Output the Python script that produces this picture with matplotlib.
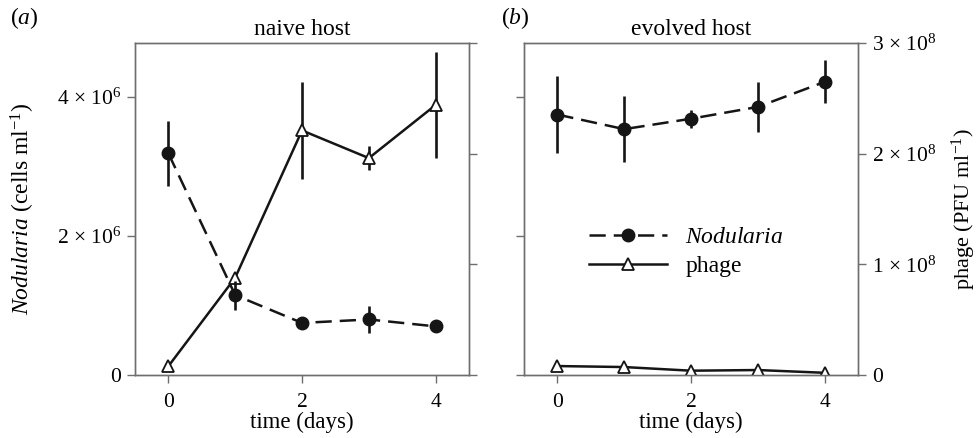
import numpy as np
import matplotlib
matplotlib.use("Agg")
import matplotlib.pyplot as plt
from matplotlib.ticker import FuncFormatter
from matplotlib.lines import Line2D

plt.rcParams["font.family"] = ["Liberation Serif", "DejaVu Serif"]
plt.rcParams["mathtext.fontset"] = "custom"
plt.rcParams["mathtext.rm"] = "Liberation Serif"
plt.rcParams["mathtext.it"] = "Liberation Serif:italic"
plt.rcParams["font.size"] = 16

days = [0, 1, 2, 3, 4]

# naive host
naive_cells = [3.19e6, 1.15e6, 0.75e6, 0.80e6, 0.70e6]
naive_cells_err = [0.47e6, 0.21e6, 0.05e6, 0.19e6, 0.03e6]
naive_phage = [0.08e8, 0.88e8, 2.21e8, 1.96e8, 2.44e8]
naive_phage_err = [0.01e8, 0.02e8, 0.44e8, 0.11e8, 0.48e8]

# evolved host
evolved_cells = [3.75e6, 3.54e6, 3.69e6, 3.86e6, 4.22e6]
evolved_cells_err = [0.55e6, 0.48e6, 0.13e6, 0.36e6, 0.31e6]
evolved_phage = [0.081e8, 0.072e8, 0.039e8, 0.045e8, 0.02e8]
evolved_phage_err = [0.0, 0.0, 0.0, 0.0, 0.0]

cell_ticks = [0, 2e6, 4e6]
phage_ticks = [0, 1e8, 2e8, 3e8]
cell_max = 4.78e6
phage_max = 3e8

spine_col = "#6e6e6e"
line_col = "#151515"
dash = (0, (6.5, 3.2))


def sci_fmt(v, pos):
    if v == 0:
        return "0"
    exp = int(np.floor(np.log10(v)))
    mant = v / 10 ** exp
    return "%d \u00d7 10$^{%d}$" % (round(mant), exp)


def style_axes(ax):
    for s in ax.spines.values():
        s.set_color(spine_col)
        s.set_linewidth(1.0)
    ax.tick_params(direction="out", length=6, width=1.0, color=spine_col,
                   labelcolor="black", labelsize=15.5, pad=4)
    ax.tick_params(axis="x", pad=7)


fig = plt.figure(figsize=(9.77, 4.38), dpi=100)
ax_a = fig.add_axes([0.1382, 0.1438, 0.3419, 0.758])
ax_b = fig.add_axes([0.5363, 0.1438, 0.3419, 0.758])

panels = [
    (ax_a, naive_cells, naive_cells_err, naive_phage, naive_phage_err, "naive host", "a"),
    (ax_b, evolved_cells, evolved_cells_err, evolved_phage, evolved_phage_err, "evolved host", "b"),
]

for i, (ax, cells, cerr, phage, perr, title, lab) in enumerate(panels):
    ax2 = ax.twinx()
    ax.set_zorder(ax2.get_zorder() + 1)
    ax.patch.set_visible(False)

    # phage on the right-hand scale
    ax2.errorbar(days, phage, yerr=perr, color=line_col, lw=1.8, elinewidth=1.9,
                 capsize=0, marker="^", markersize=9, markerfacecolor="white",
                 markeredgecolor=line_col, markeredgewidth=1.3, zorder=3)
    # Nodularia on the left-hand scale
    ax.errorbar(days, cells, yerr=cerr, color=line_col, lw=1.8, elinewidth=1.9,
                capsize=0, marker="o", markersize=9, linestyle=dash, zorder=4)

    ax.set_xlim(-0.5, 4.5)
    ax.set_ylim(0, cell_max)
    ax2.set_ylim(0, phage_max)
    ax.set_xticks([0, 2, 4])
    ax.set_yticks(cell_ticks)
    ax2.set_yticks(phage_ticks)
    ax.yaxis.set_major_formatter(FuncFormatter(sci_fmt))
    ax2.yaxis.set_major_formatter(FuncFormatter(sci_fmt))
    style_axes(ax)
    style_axes(ax2)
    ax.set_xlabel("time (days)", fontsize=16.5, labelpad=0)
    ax.set_title(title, fontsize=17, pad=6)
    ax.text(-0.375 if i == 0 else -0.07, 1.035, r"($\mathit{%s}$)" % lab,
            transform=ax.transAxes, fontsize=17, ha="left", va="bottom")

    if i == 0:
        ax2.tick_params(labelright=False)
        ax.set_ylabel(r"$\mathit{Nodularia}$ (cells ml$^{-1}$)", fontsize=17)
        ax.yaxis.set_label_coords(-0.293, 0.5)
    else:
        ax.tick_params(labelleft=False)
        ax2.set_ylabel(r"phage (PFU ml$^{-1}$)", fontsize=16)
        ax2.yaxis.set_label_coords(1.275, 0.5)
        h1 = Line2D([], [], color=line_col, lw=1.8, marker="o", markersize=9,
                    linestyle=dash)
        h2 = Line2D([], [], color=line_col, lw=1.8, marker="^", markersize=9,
                    markerfacecolor="white", markeredgewidth=1.3)
        ax.legend([h1, h2], [r"$\mathit{Nodularia}$", "phage"], frameon=False,
                  loc="upper left", bbox_to_anchor=(0.13, 0.51), handlelength=3.3,
                  handletextpad=0.8, labelspacing=0.3, fontsize=17)

fig.savefig("out.png", dpi=100)
